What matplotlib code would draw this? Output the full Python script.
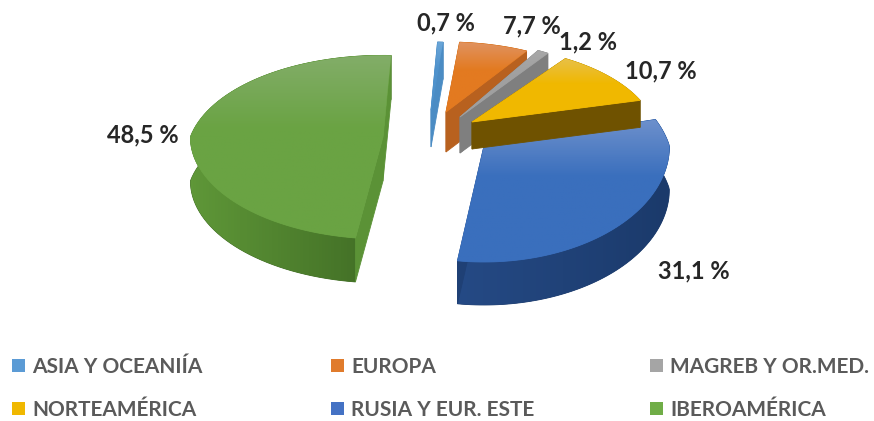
import numpy as np
import matplotlib
matplotlib.use("Agg")
from matplotlib import pyplot as plt
from matplotlib.colors import LinearSegmentedColormap
from matplotlib.patches import Polygon, Rectangle

categories = ["ASIA Y OCEANIÍA", "EUROPA", "MAGREB Y OR.MED.", "NORTEAMÉRICA", "RUSIA Y EUR. ESTE", "IBEROAMÉRICA"]
values = [0.7, 7.7, 1.2, 10.7, 31.1, 48.5]
value_labels = ["0,7 %", "7,7 %", "1,2 %", "10,7 %", "31,1 %", "48,5 %"]

# colores: leyenda, cara superior (atras/delante), pared exterior (izq/der), corte
legend_colors = ["#5b9bd5", "#e07b2c", "#a5a5a5", "#f0b800", "#4472c4", "#70ad47"]
top_back = ["#6ba6d8", "#e0925f", "#a8a8a8", "#e8c048", "#6d90cc", "#82ad68"]
top_front = ["#4f92cc", "#e37a20", "#a0a0a0", "#f0b800", "#3a6fbd", "#6aa343"]
wall_left = ["#3f7fb5", "#b8611f", "#7f7f7f", "#6f5200", "#254a85", "#5f9738"]
wall_right = ["#3f7fb5", "#b8611f", "#7f7f7f", "#6f5200", "#1b3a6b", "#3f6b24"]
cut_colors = ["#4b8cc4", "#b8611f", "#7f7f7f", "#6f5200", "#1f4075", "#5b9236"]

# explosion de cada porcion (pixeles), tamano y grosor
tips_dx = [11, 26, 40, 52, 64, -37]
tips_dy = [-20, -18, -13, -8, 16, 7]
scales_x = [0.87, 0.98, 0.95, 1.01, 1.03, 1.07]
scales_y = [0.85, 0.875, 0.955, 0.95, 1.16, 1.02]
depths = [37, 40, 36, 27, 43, 44]
draw_order = [5, 4, 0, 1, 2, 3]

center_x, center_y = 420, 130
radius_x, radius_y = 180, 100
start_angle = 87


def project(slice_i, angles):
    # pie con perspectiva: lo de atras se ve mas pequeno
    u, v = np.cos(angles), np.sin(angles)
    s = 1 - 0.2 * np.maximum(v, 0)
    x = center_x + tips_dx[slice_i] + radius_x * u * s * scales_x[slice_i]
    y = center_y + tips_dy[slice_i] - radius_y * v * s * scales_y[slice_i]
    return x, y


def fill_grad(ax, pts, c0, c1, vertical=True, stop=1.0):
    pts = np.asarray(pts)
    ax.add_patch(Polygon(pts, closed=True, fc=c1, ec=c1, lw=0.6, zorder=ax.zz))
    ax.zz += 1
    if c0 == c1:
        return
    cmap = LinearSegmentedColormap.from_list("g", [(0, c0), (stop, c1), (1, c1)] if stop < 1 else [c0, c1])
    grad = np.linspace(0, 1, 64).reshape(-1, 1) if vertical else np.linspace(0, 1, 64).reshape(1, -1)
    x0, y0 = pts.min(axis=0)
    x1, y1 = pts.max(axis=0)
    im = ax.imshow(grad, cmap=cmap, extent=(x0, x1, y1, y0), aspect="auto", zorder=ax.zz)
    clip = Polygon(pts, closed=True, transform=ax.transData)
    im.set_clip_path(clip)
    ax.zz += 1


fig = plt.figure(figsize=(8.74, 4.21), dpi=100)
ax = fig.add_axes([0, 0, 1, 1])
ax.zz = 1

# angulos de cada porcion a partir de los valores, en sentido horario
edges = start_angle - np.cumsum([0] + values) / sum(values) * 360

for i in draw_order:
    angles = np.radians(np.linspace(edges[i], edges[i + 1], 80))
    arc_x, arc_y = project(i, angles)
    d = depths[i]
    arc = np.column_stack([arc_x, arc_y])
    low = arc + [0, d]
    tip = np.array([center_x + tips_dx[i], center_y + tips_dy[i]])
    # pared exterior y paredes de corte
    fill_grad(ax, np.vstack([arc, low[::-1]]), wall_left[i], wall_right[i], vertical=False)
    fill_grad(ax, [tip, arc[0], low[0], tip + [0, d]], cut_colors[i], cut_colors[i])
    fill_grad(ax, [tip, arc[-1], low[-1], tip + [0, d]], cut_colors[i], cut_colors[i])
    # cara superior
    fill_grad(ax, np.vstack([tip, arc]), top_back[i], top_front[i], stop=0.4)

# etiquetas de porcentaje
label_x = [446, 532, 588, 661, 694, 143]
label_y = [23, 26, 42, 71, 271, 135]
for x, y, txt in zip(label_x, label_y, value_labels):
    ax.text(x, y, txt, ha="center", va="center", fontsize=17, fontweight="bold",
            family="Lato", color="#262626", zorder=200)

# leyenda
legend_x = [12, 331, 650, 12, 331, 650]
legend_y = [367, 367, 367, 410, 410, 410]
for x, y, name, col in zip(legend_x, legend_y, categories, legend_colors):
    ax.add_patch(Rectangle((x, y - 8), 13, 13, fc=col, ec="none", zorder=200))
    ax.text(x + 20, y, name, ha="left", va="center", fontsize=15, fontweight="bold",
            family="Lato", color="#5a5a5a", zorder=200)

ax.set_xlim(0, 874)
ax.set_ylim(421, 0)
ax.axis("off")
fig.savefig("out.png", dpi=100)
